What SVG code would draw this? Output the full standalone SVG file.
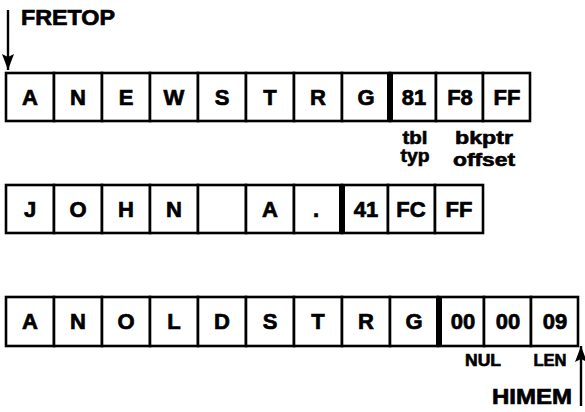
<svg xmlns="http://www.w3.org/2000/svg" width="585" height="412" viewBox="0 0 585 412">
  <style>
    .cell { fill: #fff; stroke: #000; stroke-width: 2.6; }
    .bar { fill: #000; }
    .ch { font-family: "Liberation Sans", Arial, sans-serif; font-weight: bold; font-size: 22px; text-anchor: middle; fill: #000; stroke: #000; stroke-width: 0.7; }
    .lbl { font-family: "Liberation Sans", Arial, sans-serif; font-weight: bold; font-size: 18px; text-anchor: middle; fill: #000; stroke: #000; stroke-width: 0.6; }
    .sm { font-family: "Liberation Sans", Arial, sans-serif; font-weight: bold; font-size: 16px; text-anchor: middle; fill: #000; stroke: #000; stroke-width: 0.6; }
    .ptr { font-family: "Liberation Sans", Arial, sans-serif; font-weight: bold; font-size: 22px; fill: #000; stroke: #000; stroke-width: 0.7; }
    .wire { stroke: #000; stroke-width: 2.4; fill: none; }
  </style>
  <defs>
    <marker id="head" viewBox="0 0 16 12" refX="16" refY="6" markerWidth="16" markerHeight="12" markerUnits="userSpaceOnUse" orient="auto">
      <path d="M0,0 L16,6 L0,12 L3,6 Z" fill="#000"/>
    </marker>
  </defs>

  <rect width="585" height="412" fill="#fff"/>

  <!-- pointer arrows -->
  <g id="connectors">
    <line class="wire" x1="8" y1="10" x2="8" y2="70" marker-end="url(#head)"/>
    <line class="wire" x1="581" y1="406" x2="581" y2="346" marker-end="url(#head)"/>
  </g>

  <!-- new string: ANEWSTRG + descriptor 81 F8 FF -->
  <g id="row-new">
    <rect class="cell" x="6" y="73" width="48" height="48"/>
    <rect class="cell" x="54" y="73" width="48" height="48"/>
    <rect class="cell" x="102" y="73" width="48" height="48"/>
    <rect class="cell" x="150" y="73" width="48" height="48"/>
    <rect class="cell" x="198" y="73" width="48" height="48"/>
    <rect class="cell" x="246" y="73" width="48" height="48"/>
    <rect class="cell" x="294" y="73" width="48" height="48"/>
    <rect class="cell" x="342" y="73" width="48" height="48"/>
    <rect class="cell" x="390" y="73" width="46" height="48"/>
    <rect class="cell" x="436" y="73" width="47" height="48"/>
    <rect class="cell" x="483" y="73" width="47" height="48"/>
    <rect class="bar" x="387" y="72" width="6" height="50"/>
    <text class="ch" x="30" y="105">A</text>
    <text class="ch" x="78" y="105">N</text>
    <text class="ch" x="126" y="105">E</text>
    <text class="ch" x="174" y="105">W</text>
    <text class="ch" x="222" y="105">S</text>
    <text class="ch" x="270" y="105">T</text>
    <text class="ch" x="318" y="105">R</text>
    <text class="ch" x="366" y="105">G</text>
    <text class="ch" x="414" y="105">81</text>
    <text class="ch" x="460" y="105">F8</text>
    <text class="ch" x="507" y="105">FF</text>
  </g>

  <g id="labels-new">
    <text class="lbl" x="415" y="144" textLength="25" lengthAdjust="spacingAndGlyphs">tbl</text>
    <text class="lbl" x="415" y="162" textLength="29" lengthAdjust="spacingAndGlyphs">typ</text>
    <text class="lbl" x="484" y="144" textLength="58" lengthAdjust="spacingAndGlyphs">bkptr</text>
    <text class="lbl" x="484" y="166" textLength="62" lengthAdjust="spacingAndGlyphs">offset</text>
  </g>

  <!-- JOHN A. + descriptor 41 FC FF -->
  <g id="row-john">
    <rect class="cell" x="6" y="185" width="48" height="48"/>
    <rect class="cell" x="54" y="185" width="48" height="48"/>
    <rect class="cell" x="102" y="185" width="48" height="48"/>
    <rect class="cell" x="150" y="185" width="48" height="48"/>
    <rect class="cell" x="198" y="185" width="48" height="48"/>
    <rect class="cell" x="246" y="185" width="48" height="48"/>
    <rect class="cell" x="294" y="185" width="48" height="48"/>
    <rect class="cell" x="342" y="185" width="46" height="48"/>
    <rect class="cell" x="388" y="185" width="47" height="48"/>
    <rect class="cell" x="435" y="185" width="48" height="48"/>
    <rect class="bar" x="339" y="184" width="6" height="50"/>
    <text class="ch" x="30" y="216.5">J</text>
    <text class="ch" x="78" y="216.5">O</text>
    <text class="ch" x="126" y="216.5">H</text>
    <text class="ch" x="174" y="216.5">N</text>
    <text class="ch" x="270" y="216.5">A</text>
    <text class="ch" x="316" y="216.5">.</text>
    <text class="ch" x="366" y="216.5">41</text>
    <text class="ch" x="411" y="216.5">FC</text>
    <text class="ch" x="459" y="216.5">FF</text>
  </g>

  <!-- old string: ANOLDSTRG + 00 00 09 -->
  <g id="row-old">
    <rect class="cell" x="6" y="297" width="48" height="49"/>
    <rect class="cell" x="54" y="297" width="48" height="49"/>
    <rect class="cell" x="102" y="297" width="48" height="49"/>
    <rect class="cell" x="150" y="297" width="48" height="49"/>
    <rect class="cell" x="198" y="297" width="48" height="49"/>
    <rect class="cell" x="246" y="297" width="48" height="49"/>
    <rect class="cell" x="294" y="297" width="48" height="49"/>
    <rect class="cell" x="342" y="297" width="48" height="49"/>
    <rect class="cell" x="390" y="297" width="48" height="49"/>
    <rect class="cell" x="438" y="297" width="46" height="49"/>
    <rect class="cell" x="484" y="297" width="47" height="49"/>
    <rect class="cell" x="531" y="297" width="47" height="49"/>
    <rect class="bar" x="436" y="296" width="6" height="51"/>
    <text class="ch" x="30" y="329">A</text>
    <text class="ch" x="78" y="329">N</text>
    <text class="ch" x="126" y="329">O</text>
    <text class="ch" x="174" y="329">L</text>
    <text class="ch" x="222" y="329">D</text>
    <text class="ch" x="270" y="329">S</text>
    <text class="ch" x="318" y="329">T</text>
    <text class="ch" x="366" y="329">R</text>
    <text class="ch" x="414" y="329">G</text>
    <text class="ch" x="463" y="329">00</text>
    <text class="ch" x="508" y="329">00</text>
    <text class="ch" x="555" y="329">09</text>
  </g>

  <g id="labels-old">
    <text class="sm" x="483" y="366" textLength="36" lengthAdjust="spacingAndGlyphs">NUL</text>
    <text class="sm" x="550" y="366" textLength="33" lengthAdjust="spacingAndGlyphs">LEN</text>
  </g>

  <g id="pointers">
    <text class="ptr" x="21" y="25" textLength="94" lengthAdjust="spacingAndGlyphs">FRETOP</text>
    <text class="ptr" x="492" y="404" textLength="80" lengthAdjust="spacingAndGlyphs">HIMEM</text>
  </g>
</svg>
